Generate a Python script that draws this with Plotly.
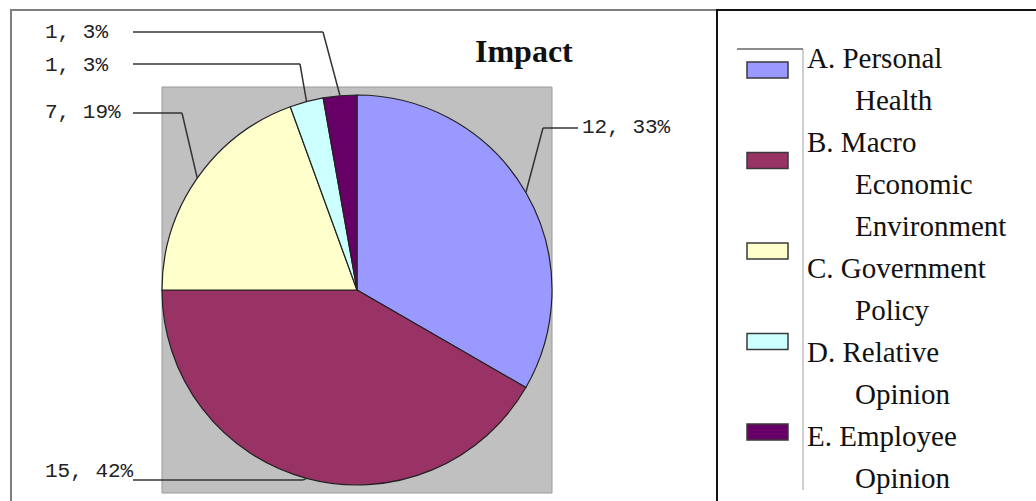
import math
import plotly.graph_objects as go

# ---- data ----
categories = ["A. Personal Health", "B. Macro Economic Environment",
              "C. Government Policy", "D. Relative Opinion", "E. Employee Opinion"]
counts = [12, 15, 7, 1, 1]
legend_lines = [["A. Personal", "Health"],
                ["B. Macro", "Economic", "Environment"],
                ["C. Government", "Policy"],
                ["D. Relative", "Opinion"],
                ["E. Employee", "Opinion"]]
title_text = "Impact"

# ---- styling / layout ----
W, H = 1036, 501
colors = ["#9999FF", "#993366", "#FFFFCC", "#CCFFFF", "#660066"]
CX, CY, R = 357, 290, 195          # pie centre and radius in pixels
PLOT_BOX = (162, 87, 552, 493)     # grey plot area (x0, y0, x1, y1)

# label placement for each slice: (label x, label y, line y, line start x, bend x)
label_layout = [
    (580, 127, 128, 578, 543),
    (43, 471, 480, 133, 303),
    (43, 112, 113, 133, 182),
    (43, 65, 64, 133, 300),
    (43, 33, 32, 133, 323),
]


def px(x):
    return x / W


def py(y):
    return 1 - y / H


fig = go.Figure()
fig.add_trace(go.Pie(
    labels=categories, values=counts, sort=False, direction="clockwise",
    rotation=0, textinfo="none", showlegend=False,
    marker=dict(colors=colors, line=dict(color="#222222", width=1.2)),
    domain=dict(x=[px(CX - R), px(CX + R)], y=[py(CY + R), py(CY - R)]),
))

shapes = []
annotations = []

# grey plot area behind the pie
shapes.append(dict(type="rect", xref="paper", yref="paper", layer="below",
                   x0=px(PLOT_BOX[0]), x1=px(PLOT_BOX[2]),
                   y0=py(PLOT_BOX[3]), y1=py(PLOT_BOX[1]),
                   fillcolor="#C0C0C0", line=dict(color="#9a9a9a", width=1)))

# outer chart frame and legend box
shapes.append(dict(type="rect", xref="paper", yref="paper",
                   x0=px(11), x1=px(1045), y0=py(515), y1=py(10),
                   line=dict(color="#7f7f7f", width=2)))
shapes.append(dict(type="rect", xref="paper", yref="paper",
                   x0=px(717), x1=px(1045), y0=py(515), y1=py(10),
                   line=dict(color="#111111", width=2)))
# inner legend guide lines
shapes.append(dict(type="line", xref="paper", yref="paper",
                   x0=px(803), x1=px(803), y0=py(49), y1=py(490),
                   line=dict(color="#a0a0a0", width=1)))
shapes.append(dict(type="line", xref="paper", yref="paper",
                   x0=px(737), x1=px(803), y0=py(49), y1=py(49),
                   line=dict(color="#666666", width=1.5)))

# data labels with leader lines to each slice's mid-angle
total = sum(counts)
cum = 0
for v, (lx, ly, line_y, sx, bx) in zip(counts, label_layout):
    mid = 90 - 360 * (cum + v / 2) / total
    cum += v
    ex = CX + R * math.cos(math.radians(mid))
    ey = CY - R * math.sin(math.radians(mid))
    pct = round(v / total * 100)
    annotations.append(dict(
        text=f"{v}, {pct}%", xref="paper", yref="paper",
        x=px(lx), y=py(ly), xanchor="left", yanchor="middle", showarrow=False,
        font=dict(family="Liberation Mono", size=21, color="#222222")))
    shapes.append(dict(type="line", xref="paper", yref="paper",
                       x0=px(sx), x1=px(bx), y0=py(line_y), y1=py(line_y),
                       line=dict(color="#333333", width=1.5)))
    shapes.append(dict(type="line", xref="paper", yref="paper",
                       x0=px(bx), x1=px(ex), y0=py(line_y), y1=py(ey),
                       line=dict(color="#333333", width=1.5)))

# title
annotations.append(dict(text=title_text, xref="paper", yref="paper",
                        x=px(524), y=py(51), xanchor="center", yanchor="middle",
                        showarrow=False,
                        font=dict(family="Liberation Serif", size=32,
                                  color="#111111", weight="bold")))

# custom legend: swatches and wrapped labels
for i, c in enumerate(colors):
    yc = 70 + 90.5 * i
    shapes.append(dict(type="rect", xref="paper", yref="paper",
                       x0=px(747), x1=px(788), y0=py(yc + 8), y1=py(yc - 8),
                       fillcolor=c, line=dict(color="#3a3a3a", width=1.5)))

line_idx = 0
for lines in legend_lines:
    for j, t in enumerate(lines):
        baseline = 68 + 42 * line_idx
        annotations.append(dict(
            text=t, xref="paper", yref="paper",
            x=px(805 if j == 0 else 853), y=py(baseline - 10),
            xanchor="left", yanchor="middle", showarrow=False,
            font=dict(family="Liberation Serif", size=29, color="#111111")))
        line_idx += 1

fig.update_layout(
    width=W, height=H, margin=dict(l=0, r=0, t=0, b=0),
    paper_bgcolor="white", plot_bgcolor="white",
    shapes=shapes, annotations=annotations,
)

fig.write_html("out.html")
